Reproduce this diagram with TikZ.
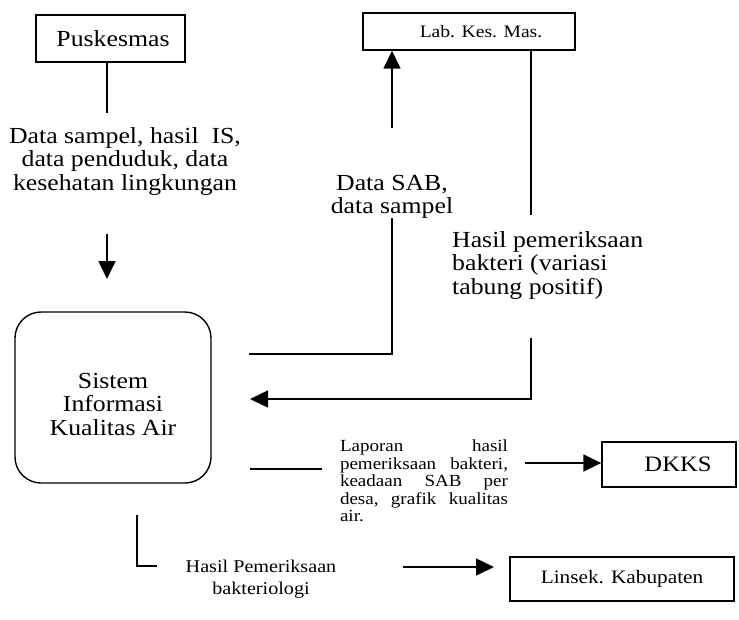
\documentclass[tikz,border=0pt]{standalone}
\usepackage{fontspec}
\setmainfont[FakeStretch=1.12]{Liberation Serif}
\usetikzlibrary{arrows.meta}
\begin{document}
\begin{tikzpicture}[x=1pt,y=-1pt,
  box/.style={draw, line width=1.4pt, inner sep=0pt, align=center},
  flow/.style={line width=1.6pt},
  arr/.style={line width=1.6pt, -{Triangle[length=18pt,width=17pt]}},
  big/.style={font=\fontsize{23}{23.5}\selectfont},
  mid/.style={font=\fontsize{18}{22}\selectfont},
  lbl/.style={inner sep=0pt}
]
\useasboundingbox (0,0) rectangle (739,619);

% entities
\node[box, big, minimum width=149pt, minimum height=47pt] (pusk) at (110.5,38.5) {\hspace*{5pt}Puskesmas};
\node[box, font=\fontsize{17.5}{20}\selectfont, minimum width=212pt, minimum height=37pt] (lab) at (469,31.5) {\hspace*{24pt}Lab. Kes. Mas.};
\node[box, rounded corners=26pt, minimum width=196pt, minimum height=171pt] (sys) at (113,397.5) {};
\node[lbl, big, align=center] (systxt) at (113,404) {Sistem\\Informasi\\Kualitas Air};
\node[box, font=\fontsize{22}{24}\selectfont, minimum width=134pt, minimum height=45pt] (dkks) at (669,464.5) {\hspace*{18pt}DKKS};
\node[box, font=\fontsize{19}{22}\selectfont, minimum width=224pt, minimum height=44pt] (lin) at (622,579) {Linsek. Kabupaten};

% labels
\node[lbl, big, align=center] (t1) at (125,161) {Data sampel, hasil\ \ IS,\\data penduduk, data\\kesehatan lingkungan};
\node[lbl, big, align=center] (t2) at (392,197) {Data SAB,\\data sampel};
\node[lbl, big, align=left, anchor=west] (t3) at (452,265) {Hasil pemeriksaan\\bakteri (variasi\\tabung positif)};
\node[lbl, font=\fontsize{17}{17.6}\selectfont, text width=168pt, align=left] (t4) at (424,481)
  {Laporan\hfill hasil\\pemeriksaan\hfill bakteri,\\keadaan\hfill SAB\hfill per\\desa,\hfill grafik\hfill kualitas\\air.};
\node[lbl, mid, align=center] (t5) at (261,579) {Hasil Pemeriksaan\\bakteriologi};

% free ends
\coordinate (a1) at (107,113);
\coordinate (a2) at (107,234);
\coordinate (a3) at (107,279);
\coordinate (b1) at (249,354);
\coordinate (b2) at (392,354);
\coordinate (b3) at (392,218);
\coordinate (b4) at (392,128);
\coordinate (c1) at (531,215);
\coordinate (c2) at (531,338);
\coordinate (c3) at (531,399);
\coordinate (c4) at (250,399);
\coordinate (d1) at (250,469);
\coordinate (d2) at (322,469);
\coordinate (d3) at (525,463);
\coordinate (e1) at (137,515);
\coordinate (e2) at (137,566);
\coordinate (e3) at (157,566);
\coordinate (e4) at (403,567);
\coordinate (e5) at (494,567);

% connectors
\draw[flow] (pusk.south -| a1) -- (a1);
\draw[arr] (a2) -- (a3);
\draw[flow] (b1) -- (b2) -- (b3);
\draw[arr] (b4) -- (b4 |- lab.south);
\draw[flow] (lab.south -| c1) -- (c1);
\draw[arr] (c2) -- (c3) -- (c4);
\draw[flow] (d1) -- (d2);
\draw[arr] (d3) -- (d3 -| dkks.west);
\draw[flow] (e1) -- (e2) -- (e3);
\draw[arr] (e4) -- (e5);
\end{tikzpicture}
\end{document}
